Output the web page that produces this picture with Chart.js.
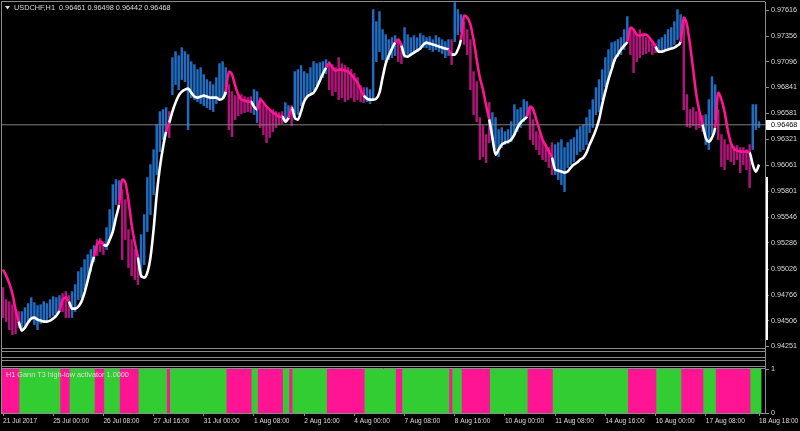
<!DOCTYPE html>
<html>
<head>
<meta charset="utf-8">
<title>USDCHF,H1 - Gann T3 high-low activator</title>
<script src="https://cdn.jsdelivr.net/npm/chart.js@4.4.1/dist/chart.umd.min.js"></script>
<style>
  html, body { margin: 0; padding: 0; background: #000; }
  #wrap { position: relative; width: 800px; height: 431px; background: #000; overflow: hidden; }
  #wrap canvas { position: absolute; left: 0; }
  #priceChart { top: 0; }
  #gannChart { top: 362px; }
  .hl { position: absolute; left: 1px; width: 765px; height: 1px; background: #8c8c8c; }
  .vl { position: absolute; width: 1px; background: #8c8c8c; }
</style>
</head>
<body>
<div id="wrap">
  <canvas id="priceChart" width="800" height="350"></canvas>
  <canvas id="gannChart" width="800" height="69"></canvas>
  <div class="hl" style="top:348px"></div>
  <div class="hl" style="top:351px"></div>
  <div class="hl" style="top:357px"></div>
  <div class="hl" style="top:360px"></div>
  <div class="hl" style="top:366px"></div>
  <div class="vl" style="left:1px;top:348px;height:66px"></div>
  <div class="vl" style="left:765px;top:348px;height:21px"></div>
  <div style="position:absolute;left:766px;top:177px;width:2px;height:163px;background:#fff"></div>
</div>

<script>
// USDCHF H1, 21 Jul - 18 Aug 2017 in 2-hour steps
const tickBars = [0, 16, 32, 48, 64, 80, 96, 112, 128, 144, 160, 176, 192, 208, 224, 241];
const tickLabels = ['21 Jul 2017', '25 Jul 00:00', '26 Jul 08:00', '27 Jul 16:00', '31 Jul 00:00',
  '1 Aug 08:00', '2 Aug 16:00', '4 Aug 00:00', '7 Aug 08:00', '8 Aug 16:00', '10 Aug 00:00',
  '11 Aug 08:00', '14 Aug 16:00', '16 Aug 00:00', '17 Aug 08:00', '18 Aug 18:00'];
const priceTicks = [0.97616, 0.97356, 0.97096, 0.96841, 0.96581, 0.96321, 0.96061,
  0.95801, 0.95546, 0.95286, 0.95026, 0.94766, 0.94506, 0.94251];
const lastBar = [0.96461, 0.96498, 0.96442, 0.96468]; // open high low close

const highs = [
  0.9484,0.9472,0.9470,0.9467,0.9462,0.9460,0.9460,0.9464,0.9468,0.9474,
  0.9469,0.9466,0.9467,0.9470,0.9468,0.9472,0.9475,0.9474,0.9476,0.9478,
  0.9480,0.9476,0.9480,0.9487,0.9500,0.9504,0.9512,0.9517,0.9522,0.9526,
  0.9532,0.9533,0.9530,0.9544,0.9562,0.9587,0.9592,0.9591,0.9582,0.9572,
  0.9542,0.9532,0.9522,0.9517,0.9537,0.9557,0.9594,0.9607,0.9622,0.9647,
  0.9660,0.9662,0.9664,0.9660,0.9714,0.9720,0.9716,0.9724,0.9720,0.9717,
  0.9710,0.9707,0.9702,0.9704,0.9697,0.9692,0.9690,0.9687,0.9694,0.9708,
  0.9710,0.9704,0.9687,0.9680,0.9676,0.9675,0.9677,0.9675,0.9674,0.9675,
  0.9682,0.9680,0.9674,0.9667,0.9664,0.9662,0.9662,0.9660,0.9659,0.9660,
  0.9669,0.9666,0.9666,0.9700,0.9702,0.9706,0.9700,0.9698,0.9704,0.9710,
  0.9708,0.9709,0.9710,0.9712,0.9710,0.9707,0.9704,0.9714,0.9708,0.9706,
  0.9704,0.9702,0.9698,0.9694,0.9686,0.9684,0.9684,0.9682,0.9762,0.9750,
  0.9760,0.9742,0.9737,0.9732,0.9734,0.9736,0.9730,0.9728,0.9744,0.9737,
  0.9734,0.9736,0.9734,0.9738,0.9736,0.9734,0.9735,0.9732,0.9736,0.9734,
  0.9732,0.9730,0.9732,0.9732,0.9769,0.9762,0.9757,0.9750,0.9742,0.9732,
  0.9700,0.9690,0.9654,0.9646,0.9637,0.9669,0.9659,0.9654,0.9642,0.9644,
  0.9640,0.9642,0.9650,0.9667,0.9662,0.9664,0.9672,0.9670,0.9664,0.9652,
  0.9640,0.9637,0.9632,0.9627,0.9624,0.9629,0.9627,0.9629,0.9632,0.9624,
  0.9629,0.9632,0.9634,0.9642,0.9645,0.9647,0.9654,0.9662,0.9672,0.9684,
  0.9692,0.9702,0.9714,0.9722,0.9729,0.9730,0.9732,0.9734,0.9742,0.9755,
  0.9744,0.9742,0.9737,0.9742,0.9738,0.9734,0.9732,0.9730,0.9728,0.9732,
  0.9734,0.9737,0.9742,0.9744,0.9750,0.9762,0.9757,0.9754,0.9677,0.9662,
  0.9664,0.9660,0.9658,0.9656,0.9657,0.9672,0.9695,0.9687,0.9662,0.9637,
  0.9632,0.9627,0.9627,0.9625,0.9626,0.9624,0.9624,0.9622,0.9627,0.9667,
  0.9667,0.9650
];
const lows = [
  0.9454,0.9450,0.9442,0.9437,0.9438,0.9444,0.9442,0.9446,0.9450,0.9452,
  0.9447,0.9442,0.9448,0.9450,0.9451,0.9454,0.9456,0.9458,0.9460,0.9460,
  0.9454,0.9454,0.9454,0.9460,0.9472,0.9474,0.9482,0.9490,0.9500,0.9510,
  0.9516,0.9520,0.9517,0.9522,0.9532,0.9540,0.9567,0.9572,0.9512,0.9532,
  0.9504,0.9496,0.9492,0.9487,0.9494,0.9507,0.9540,0.9557,0.9577,0.9597,
  0.9620,0.9632,0.9640,0.9634,0.9677,0.9687,0.9682,0.9692,0.9690,0.9642,
  0.9674,0.9672,0.9670,0.9668,0.9666,0.9664,0.9662,0.9660,0.9668,0.9672,
  0.9674,0.9677,0.9642,0.9635,0.9652,0.9656,0.9658,0.9659,0.9660,0.9659,
  0.9657,0.9649,0.9644,0.9637,0.9629,0.9634,0.9640,0.9644,0.9647,0.9648,
  0.9650,0.9652,0.9646,0.9652,0.9657,0.9666,0.9672,0.9676,0.9678,0.9682,
  0.9686,0.9690,0.9694,0.9698,0.9682,0.9676,0.9680,0.9672,0.9674,0.9670,
  0.9672,0.9674,0.9670,0.9672,0.9670,0.9669,0.9670,0.9668,0.9672,0.9710,
  0.9720,0.9712,0.9710,0.9712,0.9714,0.9716,0.9710,0.9708,0.9714,0.9717,
  0.9716,0.9718,0.9720,0.9722,0.9724,0.9724,0.9722,0.9720,0.9722,0.9720,
  0.9718,0.9714,0.9716,0.9707,0.9730,0.9737,0.9740,0.9727,0.9717,0.9682,
  0.9657,0.9650,0.9612,0.9615,0.9609,0.9629,0.9632,0.9622,0.9615,0.9624,
  0.9627,0.9628,0.9630,0.9637,0.9640,0.9644,0.9650,0.9654,0.9632,0.9627,
  0.9622,0.9617,0.9612,0.9610,0.9604,0.9597,0.9597,0.9592,0.9587,0.9580,
  0.9604,0.9607,0.9610,0.9617,0.9620,0.9622,0.9627,0.9639,0.9644,0.9657,
  0.9660,0.9672,0.9685,0.9692,0.9705,0.9710,0.9715,0.9717,0.9722,0.9732,
  0.9717,0.9699,0.9710,0.9714,0.9717,0.9718,0.9720,0.9717,0.9719,0.9720,
  0.9722,0.9722,0.9724,0.9725,0.9727,0.9732,0.9734,0.9662,0.9645,0.9644,
  0.9646,0.9642,0.9644,0.9640,0.9627,0.9622,0.9637,0.9652,0.9632,0.9605,
  0.9602,0.9612,0.9610,0.9607,0.9612,0.9599,0.9607,0.9602,0.9584,0.9622,
  0.9642,0.9644
];
const t3 = [
  0.9502,0.9496,0.9488,0.9478,0.9462,0.9450,0.9441,0.9444,0.9449,0.9453,
  0.9454,0.9452,0.9451,0.9450,0.9450,0.9451,0.9453,0.9456,0.9461,0.9472,
  0.9474,0.9470,0.9463,0.9463,0.9465,0.9470,0.9479,0.9491,0.9504,0.9515,
  0.9527,0.9530,0.9527,0.9526,0.9532,0.9540,0.9554,0.9567,0.9592,0.9589,
  0.9571,0.9547,0.9529,0.9514,0.9496,0.9494,0.9499,0.9514,0.9542,0.9577,
  0.9604,0.9624,0.9640,0.9649,0.9660,0.9669,0.9676,0.9680,0.9682,0.9683,
  0.9679,0.9675,0.9674,0.9675,0.9676,0.9675,0.9674,0.9674,0.9674,0.9672,
  0.9673,0.9680,0.9700,0.9697,0.9686,0.9677,0.9672,0.9671,0.9670,0.9670,
  0.9665,0.9662,0.9672,0.9669,0.9665,0.9662,0.9659,0.9657,0.9655,0.9655,
  0.9650,0.9654,0.9664,0.9654,0.9652,0.9660,0.9670,0.9675,0.9677,0.9679,
  0.9684,0.9691,0.9698,0.9704,0.9708,0.9704,0.9701,0.9702,0.9702,0.9701,
  0.9700,0.9697,0.9693,0.9689,0.9682,0.9676,0.9673,0.9672,0.9672,0.9673,
  0.9679,0.9694,0.9708,0.9716,0.9723,0.9729,0.9732,0.9726,0.9716,0.9715,
  0.9717,0.9719,0.9721,0.9723,0.9727,0.9729,0.9728,0.9727,0.9726,0.9725,
  0.9724,0.9723,0.9722,0.9717,0.9717,0.9722,0.9732,0.9756,0.9754,0.9747,
  0.9732,0.9712,0.9694,0.9682,0.9666,0.9652,0.9634,0.9617,0.9622,0.9627,
  0.9629,0.9630,0.9632,0.9637,0.9644,0.9649,0.9652,0.9655,0.9665,0.9662,
  0.9652,0.9642,0.9632,0.9626,0.9620,0.9614,0.9602,0.9601,0.9600,0.9599,
  0.9600,0.9604,0.9607,0.9609,0.9612,0.9614,0.9619,0.9627,0.9634,0.9642,
  0.9652,0.9667,0.9680,0.9692,0.9702,0.9712,0.9717,0.9722,0.9726,0.9730,
  0.9744,0.9742,0.9737,0.9736,0.9737,0.9737,0.9734,0.9730,0.9725,0.9720,
  0.9720,0.9721,0.9722,0.9723,0.9724,0.9726,0.9730,0.9754,0.9747,0.9727,
  0.9702,0.9677,0.9660,0.9647,0.9634,0.9630,0.9634,0.9644,0.9679,0.9672,
  0.9660,0.9642,0.9629,0.9623,0.9621,0.9620,0.9620,0.9620,0.9619,0.9607,
  0.9600,0.9607
];
// activator state in runs: [1 = up / 0 = down, number of bars]
const trendRuns = [[0,6],[1,13],[0,3],[1,8],[0,3],[1,5],[0,6],[1,9],[0,1],[1,18],
  [0,8],[1,2],[0,8],[1,2],[0,1],[1,11],[0,12],[1,10],[0,2],[1,15],[0,1],[1,3],
  [0,9],[1,12],[0,8],[1,24],[0,9],[1,8],[0,7],[1,4],[0,11],[1,3]];

const trend = [];
trendRuns.forEach(([up, n]) => { for (let k = 0; k < n; k++) trend.push(up); });

const FONT = '"Liberation Sans", Arial, sans-serif';
const TXT = '#dcdcdc';
const GRID = '#8c8c8c';
const X_MIN = -0.32, X_MAX = 242.9;

// shared frame + caption drawing
const framePlugin = {
  id: 'frame',
  afterDraw(chart, args, opts) {
    const { ctx, chartArea: a } = chart;
    ctx.save();
    ctx.strokeStyle = GRID;
    ctx.lineWidth = 1;
    ctx.beginPath();
    ctx.moveTo(a.left - 0.5, a.bottom);
    ctx.lineTo(a.left - 0.5, a.top - 0.5);
    ctx.lineTo(a.right, a.top - 0.5);
    ctx.stroke();
    ctx.fillStyle = TXT;
    ctx.font = '7.3px ' + FONT;
    ctx.textBaseline = 'middle';
    if (opts.triangle) {
      ctx.beginPath();
      ctx.moveTo(5, 6); ctx.lineTo(10, 6); ctx.lineTo(7.5, 9.5); ctx.closePath();
      ctx.fill();
    }
    if (opts.caption) ctx.fillText(opts.caption, opts.cx, opts.cy);
    if (opts.marker !== undefined) {
      const y = chart.scales.y.getPixelForValue(opts.marker);
      ctx.fillStyle = '#fff';
      ctx.fillRect(766, Math.round(y) - 5, 34, 10);
      ctx.fillStyle = '#000';
      ctx.fillText(opts.marker.toFixed(5), 771, Math.round(y));
    }
    ctx.restore();
  }
};

const yFit = (s) => { s.width = 35; s.paddingTop = 0; s.paddingBottom = 0; };

new Chart(document.getElementById('priceChart'), {
  data: {
    datasets: [
      {
        type: 'line',
        order: 0,
        data: t3.map((v, i) => ({ x: i, y: v })),
        borderColor: '#ffffff',
        borderWidth: 2.6,
        pointRadius: 0,
        cubicInterpolationMode: 'monotone',
        segment: { borderColor: (c) => trend[c.p1DataIndex] ? '#ffffff' : '#ff1493' }
      },
      {
        type: 'line',
        order: 1,
        data: [{ x: X_MIN, y: lastBar[3] }, { x: X_MAX, y: lastBar[3] }],
        borderColor: '#808080',
        borderWidth: 1,
        pointRadius: 0
      },
      {
        type: 'bar',
        order: 2,
        data: highs.map((h, i) => ({ x: i, y: [lows[i], h] })),
        backgroundColor: trend.map((u) => u ? '#1f6cc0' : '#b0167a'),
        barThickness: 1.8,
        borderWidth: 0
      }
    ]
  },
  options: {
    responsive: false,
    animation: false,
    devicePixelRatio: 1,
    layout: { padding: { top: 2, left: 2, bottom: 2, right: 0 } },
    plugins: {
      legend: { display: false },
      tooltip: { enabled: false },
      frame: {
        triangle: true,
        caption: 'USDCHF,H1  ' + lastBar.map((v) => v.toFixed(5)).join(' '),
        cx: 14, cy: 8,
        marker: lastBar[3]
      }
    },
    scales: {
      x: { type: 'linear', display: false, offset: false, min: X_MIN, max: X_MAX },
      y: {
        position: 'right',
        min: 0.94236,
        max: 0.97696,
        afterBuildTicks: (s) => { s.ticks = priceTicks.map((v) => ({ value: v })); },
        afterFit: yFit,
        ticks: { color: TXT, font: { family: FONT, size: 7.2 }, padding: 2, callback: (v) => v.toFixed(5) },
        grid: { drawOnChartArea: false, color: GRID, tickLength: 4 },
        border: { color: GRID }
      }
    }
  },
  plugins: [framePlugin]
});

new Chart(document.getElementById('gannChart'), {
  type: 'bar',
  data: {
    datasets: [{
      data: trend.map((u, i) => ({ x: i, y: 1 })),
      backgroundColor: trend.map((u) => u ? '#32cd32' : '#ff1493'),
      barPercentage: 1,
      categoryPercentage: 1,
      inflateAmount: 0.8,
      borderWidth: 0
    }]
  },
  options: {
    responsive: false,
    animation: false,
    devicePixelRatio: 1,
    layout: { padding: { top: 7, left: 2, bottom: 0, right: 0 } },
    plugins: {
      legend: { display: false },
      tooltip: { enabled: false },
      frame: { caption: 'H1 Gann T3 high-low activator 1.0000', cx: 6, cy: 13 }
    },
    scales: {
      x: {
        type: 'linear',
        offset: false,
        min: X_MIN,
        max: X_MAX,
        afterBuildTicks: (s) => { s.ticks = tickBars.map((v) => ({ value: v })); },
        afterFit: (s) => { s.height = 18; s.paddingLeft = 0; s.paddingRight = 0; },
        ticks: {
          color: TXT, font: { family: FONT, size: 6.6 }, align: 'start', maxRotation: 0,
          autoSkip: false, padding: 1, callback: (v, i) => tickLabels[i]
        },
        grid: { drawOnChartArea: false, offset: false, color: GRID, tickLength: 3 },
        border: { color: GRID }
      },
      y: {
        position: 'right',
        min: 0,
        max: 1,
        afterBuildTicks: (s) => { s.ticks = [{ value: 1 }, { value: 0 }]; },
        afterFit: yFit,
        ticks: { color: TXT, font: { family: FONT, size: 7.2 }, padding: 2 },
        grid: { drawOnChartArea: false, color: GRID, tickLength: 4 },
        border: { color: GRID }
      }
    }
  },
  plugins: [framePlugin]
});
</script>
</body>
</html>
